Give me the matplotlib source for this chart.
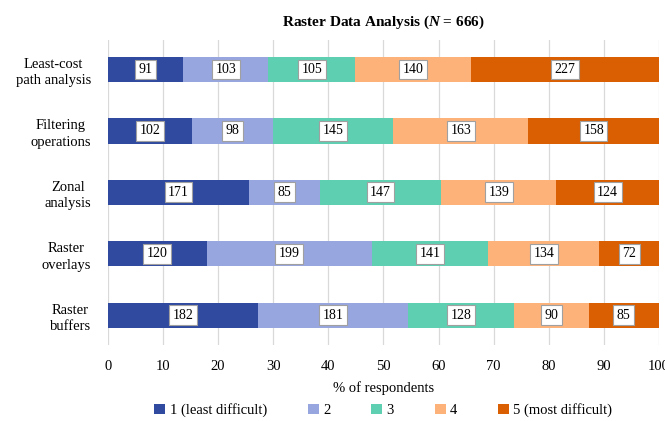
import numpy as np
import matplotlib
matplotlib.use('Agg')
import matplotlib.pyplot as plt

plt.rcParams['font.family'] = ['Liberation Serif', 'DejaVu Serif']
plt.rcParams['mathtext.fontset'] = 'custom'
plt.rcParams['mathtext.bfit'] = 'Liberation Serif:bold:italic'

# Данные
categories = ['Least-cost\npath analysis', 'Filtering\noperations', 'Zonal\nanalysis',
              'Raster\noverlays', 'Raster\nbuffers']
level_names = ['1 (least difficult)', '2', '3', '4', '5 (most difficult)']
counts = [
    [91, 102, 171, 120, 182],
    [103, 98, 85, 199, 181],
    [105, 145, 147, 141, 128],
    [140, 163, 139, 134, 90],
    [227, 158, 124, 72, 85],
]
n_total = 666
colors = ['#2F4A9F', '#97A6DE', '#5ECFB1', '#FDB27A', '#D95F02']

fig = plt.figure(figsize=(6.65, 4.21), dpi=100)
ax = fig.add_axes([0.162, 0.181, 0.829, 0.724])

y = np.arange(len(categories))[::-1]
left = np.zeros(len(categories))
for name, vals, col in zip(level_names, counts, colors):
    vals = np.array(vals)
    pct = vals / n_total * 100
    ax.barh(y, pct, left=left, height=0.41, color=col, label=name, zorder=2)
    for yi, l, p, v in zip(y, left, pct, vals):
        ax.text(l + p / 2, yi, str(v), ha='center', va='center', fontsize=10, zorder=3,
                bbox=dict(boxstyle='square,pad=0.25', fc='white', ec='#A0A0A0', lw=0.8))
    left += pct

ax.set_xlim(0, 100)
ax.set_ylim(-0.48, 4.48)
ax.set_xticks(np.arange(0, 101, 10))
ax.set_yticks(y)
ax.set_yticklabels(categories, multialignment='center', linespacing=1.35)
ax.tick_params(axis='y', length=0, pad=12, labelsize=10.5)
ax.tick_params(axis='x', length=0, pad=11, labelsize=10.5)
ax.grid(axis='x', color='#D9D9D9', lw=0.9, zorder=0)
for s in ax.spines.values():
    s.set_visible(False)

ax.set_xlabel('% of respondents', fontsize=10.5, labelpad=6)
ax.set_title(r'Raster Data Analysis ($\mathbfit{N}$ = 666)', fontsize=11, fontweight='bold', pad=10)

ax.legend(loc='center', bbox_to_anchor=(0.5, -0.215), ncol=5, frameon=False,
          fontsize=10.5, handlelength=0.75, handleheight=0.75, handletextpad=0.3, columnspacing=2.8)

fig.savefig('out.png', dpi=100)
